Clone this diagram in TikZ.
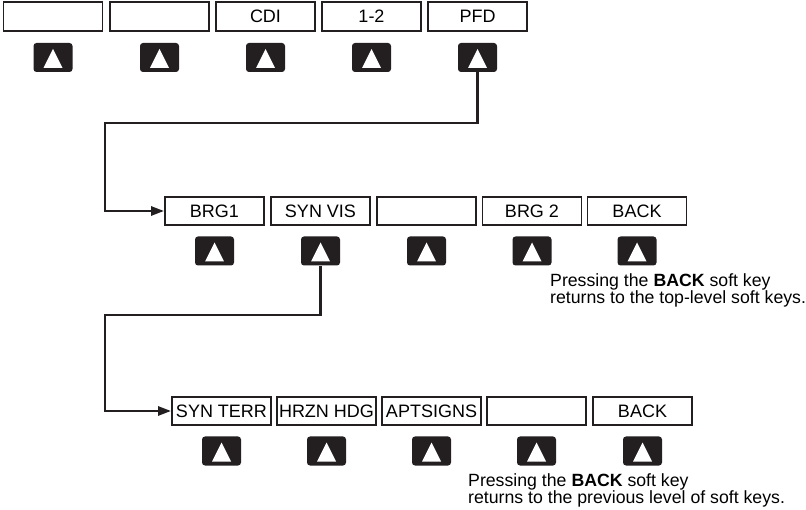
\documentclass[tikz,border=0pt]{standalone}
\usepackage{fontspec}
\setmainfont{Liberation Sans}
\usepackage{xcolor}
\definecolor{keyInk}{HTML}{231F20}
\usetikzlibrary{arrows.meta,positioning}
\tikzset{
  softlabel/.style={
    draw=keyInk,
    line width=1.8pt,
    minimum width=99pt,
    minimum height=28.5pt,
    inner sep=0pt,
    font=\fontsize{18}{20}\selectfont
  },
  softbutton/.style={
    fill=keyInk,
    rounded corners=3pt,
    minimum width=39pt,
    minimum height=29pt,
    inner sep=0pt,
    path picture={
      \fill[white,sharp corners] ([shift={(-9.5pt,-10.5pt)}]path picture bounding box.center)
        -- ([shift={(9.5pt,-10.5pt)}]path picture bounding box.center)
        -- ([shift={(0pt,8.5pt)}]path picture bounding box.center) -- cycle;
    }
  },
  softnote/.style={
    anchor=north west,
    align=left,
    inner sep=0pt,
    font=\fontsize{17.7}{16}\selectfont
  },
  softlink/.style={
    draw=keyInk,
    line width=2.6pt,
    -{Triangle[length=13pt,width=9pt]}
  }
}

\begin{document}
\begin{tikzpicture}[x=1pt,y=-1pt]
  \useasboundingbox (0,0) rectangle (806,510);
  % top level soft keys
  \foreach \n/\x/\t in {1/53/{},2/159.5/{},3/265.5/CDI,4/371.5/1-2,5/477.5/PFD}{
    \node[softlabel] (top\n) at (\x,16.5) {\t};
    \node[softbutton] (btntop\n) at (\x,57.5) {};
  }
  % PFD soft keys
  \foreach \n/\x/\t in {1/214.5/BRG1,2/320.5/SYN VIS,3/426.5/{},4/532/BRG 2,5/637/BACK}{
    \node[softlabel] (pfd\n) at (\x,211) {\t};
    \node[softbutton] (btnpfd\n) at (\x,251) {};
  }
  % SYN VIS soft keys
  \foreach \n/\x/\t in {1/221.5/SYN TERR,2/326.5/HRZN HDG,3/431.5/APTSIGNS,4/536.5/{},5/642.5/BACK}{
    \node[softlabel] (svt\n) at (\x,411) {\t};
    \node[softbutton] (btnsvt\n) at (\x,451) {};
  }
  \node[softnote] (backnote1) at (550,273) {Pressing the \textbf{BACK} soft key\\returns to the top-level soft keys.};
  \node[softnote] (backnote2) at (468,473) {Pressing the \textbf{BACK} soft key\\returns to the previous level of soft keys.};
  \coordinate (bendpfd) at (105,123);
  \coordinate (bendsvt) at (105,315);
  \draw[softlink] (btntop5.south) |- (bendpfd) |- (pfd1.west);
  \draw[softlink] (btnpfd2.south) |- (bendsvt) |- (svt1.west);
\end{tikzpicture}
\end{document}
